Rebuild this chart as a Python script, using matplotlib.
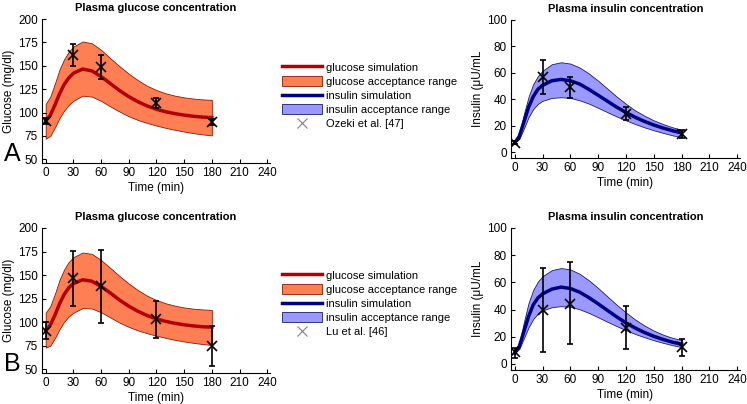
import numpy as np
import matplotlib
matplotlib.use("Agg")
import matplotlib.pyplot as plt
from matplotlib.lines import Line2D
from matplotlib.patches import Patch

plt.rcParams['font.family'] = ['Liberation Sans', 'DejaVu Sans']
plt.rcParams['font.size'] = 8

# Simulation time grid (min)
t_sim = [0, 5, 10, 15, 20, 25, 30, 40, 50, 60, 70, 80, 90, 100, 110, 120, 130, 140, 150, 160, 170, 180]

# Panel A - glucose (mg/dl)
glu_a_mean = [91, 97, 108, 120, 130, 137, 142, 146.5, 144.5, 138.5, 131, 123.5, 117, 111.5, 107, 103.5, 100.8, 98.8, 97.2, 96, 95.1, 94.5]
glu_a_upper = [109, 117, 131, 146, 157, 165, 170.5, 176, 174, 167, 158, 149.5, 141.5, 134.5, 128.5, 124, 120.5, 118, 116.2, 114.9, 114, 113.5]
glu_a_lower = [72, 75, 84, 94, 102, 108, 112.5, 118, 117, 112.5, 106.5, 101, 96, 92, 88.8, 86, 83.6, 81.5, 79.6, 77.9, 76.6, 75.5]
# Panel A - insulin (uU/mL)
ins_a_mean = [7, 12, 23, 34, 42, 47.5, 50.5, 54, 55, 54, 51.5, 47.5, 43, 38.5, 34, 30, 26.3, 23.2, 20.5, 18.2, 16.2, 14.5]
ins_a_upper = [7, 14, 29, 42, 51.5, 57.5, 61.5, 66.5, 68, 67, 64, 59.5, 54, 48, 42, 36.5, 31.5, 27.5, 24, 21.2, 18.8, 16.8]
ins_a_lower = [7, 10, 18, 26.5, 32.5, 36.5, 38.8, 41, 41.5, 41, 39.2, 36.7, 33.5, 30.2, 27, 24, 21.2, 18.7, 16.5, 14.5, 12.7, 11.2]

# Panel B - glucose
glu_b_mean = [91, 97, 107.5, 119.5, 129.5, 136.5, 141, 145, 143.5, 138, 131, 123.5, 117, 111.5, 107, 103.5, 100.8, 98.8, 97.2, 96, 95.1, 94.7]
glu_b_upper = [110, 117, 130, 145, 156, 164, 169, 174, 172.5, 166, 157.5, 149, 141, 134, 128, 123.5, 120, 117.5, 115.6, 114.3, 113.5, 113]
glu_b_lower = [73, 75, 83, 92.5, 100.5, 106, 110, 115, 114.5, 110.5, 105, 99.5, 95, 91.2, 88.2, 85.6, 83.3, 81.2, 79.5, 78, 76.8, 75.7]
# Panel B - insulin
ins_b_mean = [8, 13, 24, 35, 43.5, 48.5, 51.5, 55, 56.5, 55.5, 52.8, 48.8, 44.2, 39.4, 34.6, 30.2, 26.4, 23.1, 20.3, 18, 16, 14.5]
ins_b_upper = [8, 15, 31, 45, 54.5, 60.5, 64.5, 69, 70.5, 69.5, 66.3, 61.5, 55.8, 49.6, 43.5, 37.8, 32.6, 28.2, 24.5, 21.5, 19.2, 17.5]
ins_b_lower = [8, 11, 19, 27, 33, 37, 39.3, 41.7, 42.5, 42, 40.2, 37.5, 34.3, 31, 27.8, 24.8, 22, 19.6, 17.4, 15.5, 13.8, 12.3]

# Measured data
t_obs = [0, 30, 60, 120, 180]
glu_a_obs = [91, 162, 149, 110, 90]
glu_a_hi = [94, 173, 161, 115, 93]
glu_a_lo = [88, 150, 136, 105, 87]
ins_a_obs = [7, 57, 49.5, 29, 14]
ins_a_hi = [8, 69.5, 57, 34, 17]
ins_a_lo = [6, 44, 41, 24.5, 11]
glu_b_obs = [91, 147, 138, 103, 74.6]
glu_b_hi = [100, 176, 177, 123, 96]
glu_b_lo = [82, 117.6, 99, 83.5, 53.5]
ins_b_obs = [8.4, 40, 44.3, 26.5, 12.4]
ins_b_hi = [12, 70.5, 75, 42.5, 18]
ins_b_lo = [4, 9, 15, 11, 5.5]

GLU_FILL = '#FF7F55'
GLU_EDGE = '#8B1A00'
GLU_LINE = '#B40000'
INS_FILL = '#9999FF'
INS_EDGE = '#1A1A6E'
INS_LINE = '#000080'

W, H = 747, 404
fig = plt.figure(figsize=(W / 100, H / 100), dpi=100)


def ax_at(left, top, right, bottom):
    return fig.add_axes([left / W, 1 - bottom / H, (right - left) / W, (bottom - top) / H])


def style(ax):
    ax.spines['top'].set_visible(False)
    ax.spines['right'].set_visible(False)
    ax.tick_params(direction='in', length=3, width=0.8, labelsize=8.5, pad=3)
    ax.set_xlim(-4, 243)
    ax.set_xticks(range(0, 241, 30))
    ax.set_xlabel('Time (min)', fontsize=8.5, labelpad=2)


def draw(ax, mean, upper, lower, obs, hi, lo, fill, edge, line):
    ax.fill_between(t_sim, lower, upper, facecolor=fill, edgecolor=edge, linewidth=0.6)
    ax.plot(t_sim, mean, color=line, linewidth=2.5, solid_joinstyle='round')
    obs = np.array(obs)
    yerr = [obs - np.array(lo), np.array(hi) - obs]
    ax.errorbar(t_obs, obs, yerr=yerr, fmt='x', color='black', markersize=7.5,
                markeredgewidth=1.2, elinewidth=1.2, capsize=2, capthick=1)


panels = [
    (19, 163, 20, 158, 'A', glu_a_mean, glu_a_upper, glu_a_lower, glu_a_obs, glu_a_hi, glu_a_lo,
     ins_a_mean, ins_a_upper, ins_a_lower, ins_a_obs, ins_a_hi, ins_a_lo, 'Ozeki et al. [47]', 62),
    (228, 373, 228, 370, 'B', glu_b_mean, glu_b_upper, glu_b_lower, glu_b_obs, glu_b_hi, glu_b_lo,
     ins_b_mean, ins_b_upper, ins_b_lower, ins_b_obs, ins_b_hi, ins_b_lo, 'Lu et al. [46]', 270),
]

for (gt, gb, it, ib, letter, gm, gu, gl, go, gh, glo, im, iu, il, io, ih, ilo, ref, leg_top) in panels:
    axg = ax_at(42, gt, 270, gb)
    style(axg)
    draw(axg, gm, gu, gl, go, gh, glo, GLU_FILL, GLU_EDGE, GLU_LINE)
    axg.set_ylim(46, 200)
    axg.set_yticks(range(50, 201, 25))
    axg.set_ylabel('Glucose (mg/dl)', fontsize=8.5, labelpad=2)
    axg.set_title('Plasma glucose concentration', fontsize=8, fontweight='bold', pad=6)

    axi = ax_at(511, it, 740, ib)
    style(axi)
    draw(axi, im, iu, il, io, ih, ilo, INS_FILL, INS_EDGE, INS_LINE)
    axi.set_ylim(-4.5, 100)
    axi.set_yticks(range(0, 101, 20))
    axi.set_ylabel('Insulin (\u03bcU/mL', fontsize=8.5, labelpad=2)
    axi.set_title('Plasma insulin concentration', fontsize=8, fontweight='bold', pad=6)

    fig.text(4 / W, 1 - (gb + 3) / H, letter, fontsize=18, ha='left', va='bottom')

    handles = [
        Line2D([], [], color=GLU_LINE, linewidth=2.5),
        Patch(facecolor=GLU_FILL, edgecolor=GLU_EDGE, linewidth=0.6),
        Line2D([], [], color=INS_LINE, linewidth=2.5),
        Patch(facecolor=INS_FILL, edgecolor=INS_EDGE, linewidth=0.6),
        Line2D([], [], color='gray', marker='x', linestyle='none', markersize=7, markeredgewidth=0.8),
    ]
    labels = ['glucose simulation', 'glucose acceptance range', 'insulin simulation',
              'insulin acceptance range', ref]
    fig.legend(handles, labels, loc='upper left', bbox_to_anchor=(282 / W, 1 - leg_top / H),
               frameon=False, fontsize=8, handlelength=3.6, handleheight=1.0,
               labelspacing=0.3, handletextpad=0.4, borderpad=0, borderaxespad=0)

fig.savefig('out.png', dpi=100)
